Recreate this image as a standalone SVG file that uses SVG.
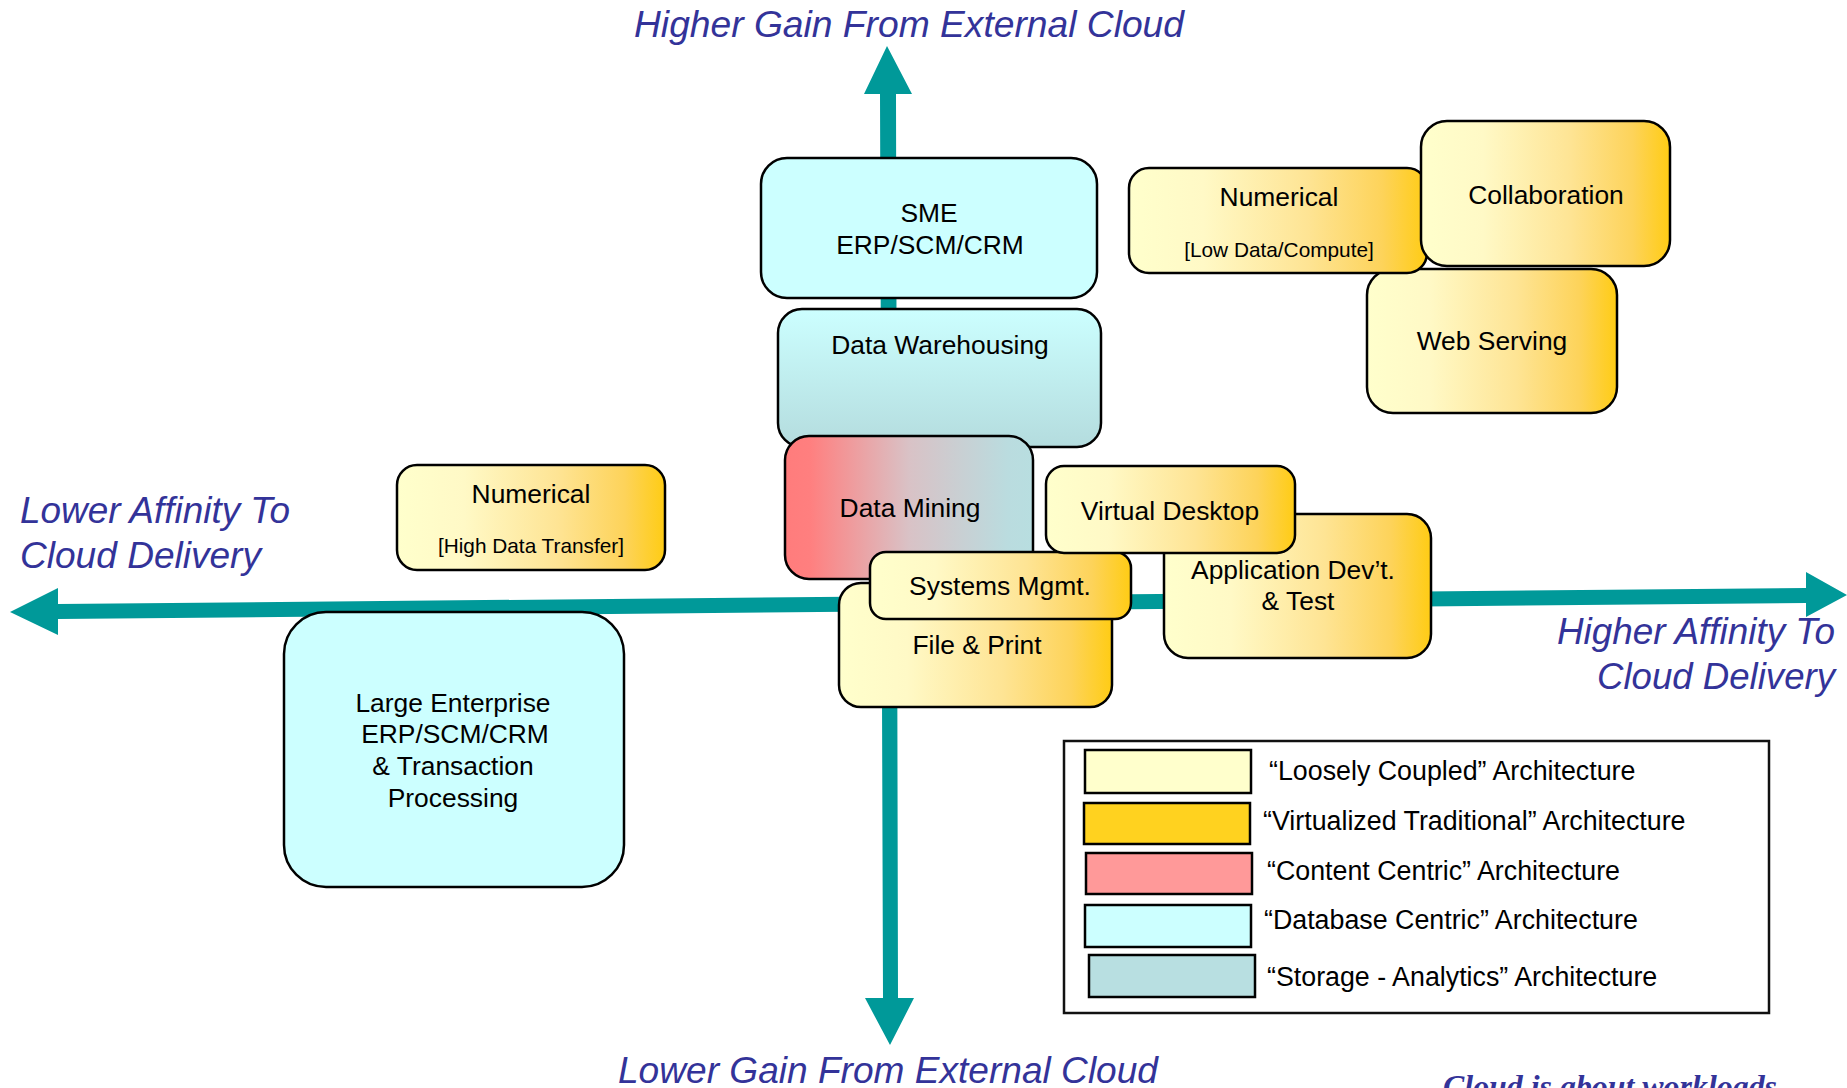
<svg xmlns="http://www.w3.org/2000/svg" width="1847" height="1088" viewBox="0 0 1847 1088">
  <style>
    .box { stroke: #000; stroke-width: 2.5; }
    .lbl { font-family: "Liberation Sans", Arial, sans-serif; font-size: 26.4px; fill: #000; text-anchor: middle; }
    .sub { font-family: "Liberation Sans", Arial, sans-serif; font-size: 20.8px; fill: #000; text-anchor: middle; }
    .axis-title { font-family: "Liberation Sans", Arial, sans-serif; font-style: italic; font-size: 36.5px; fill: #333399; }
    .axis { fill: #009999; }
    .leg { font-family: "Liberation Sans", Arial, sans-serif; font-size: 26.8px; fill: #000; }
    .swatch { stroke: #000; stroke-width: 2.5; }
  </style>
  <defs>
    <linearGradient id="gold" x1="0" y1="0" x2="1" y2="0">
      <stop offset="0" stop-color="#FFFFCC"/>
      <stop offset="0.25" stop-color="#FFF9C6"/>
      <stop offset="0.6" stop-color="#FEE494"/>
      <stop offset="0.85" stop-color="#FDD35A"/>
      <stop offset="1" stop-color="#FFCC14"/>
    </linearGradient>
    <linearGradient id="content" x1="0" y1="0" x2="1" y2="0">
      <stop offset="0" stop-color="#FF7C7C"/>
      <stop offset="0.1" stop-color="#FF7F7F"/>
      <stop offset="0.5" stop-color="#D9C2C6"/>
      <stop offset="0.9" stop-color="#BADCDF"/>
      <stop offset="1" stop-color="#B8DEE0"/>
    </linearGradient>
    <linearGradient id="storage" x1="0" y1="0" x2="0" y2="1">
      <stop offset="0" stop-color="#CCFFFF"/>
      <stop offset="1" stop-color="#B4DCDE"/>
    </linearGradient>
  </defs>

  <rect width="1847" height="1088" fill="#fff"/>

  <!-- axis titles -->
  <text class="axis-title" x="634" y="37" textLength="550" lengthAdjust="spacingAndGlyphs">Higher Gain From External Cloud</text>
  <text class="axis-title" x="618" y="1083" textLength="540" lengthAdjust="spacingAndGlyphs">Lower Gain From External Cloud</text>
  <text class="axis-title" x="20" y="523" textLength="270" lengthAdjust="spacingAndGlyphs">Lower Affinity To</text>
  <text class="axis-title" x="20" y="568" textLength="241" lengthAdjust="spacingAndGlyphs">Cloud Delivery</text>
  <text class="axis-title" x="1557" y="644" textLength="278" lengthAdjust="spacingAndGlyphs">Higher Affinity To</text>
  <text class="axis-title" x="1597" y="689" textLength="238" lengthAdjust="spacingAndGlyphs">Cloud Delivery</text>

  <!-- the two axes -->
  <g id="connectors">
    <polygon id="axis-vertical" class="axis" points="887,46 912,94 896,94 898,998 914,998 890,1045 865,998 883,998 880,94 864,94"/>
    <polygon id="axis-horizontal" class="axis" points="10,612 58,588 58,604 1806,588 1806,572 1847,595 1806,617 1806,603 58,619 58,635"/>
  </g>

  <!-- workloads -->
  <g id="sme">
    <rect class="box" x="761" y="158" width="336" height="140" rx="26" fill="#CCFFFF"/>
    <text class="lbl" x="929" y="222">SME</text>
    <text class="lbl" x="930" y="254">ERP/SCM/CRM</text>
  </g>

  <g id="data-warehousing">
    <rect class="box" x="778" y="309" width="323" height="138" rx="24" fill="url(#storage)"/>
    <text class="lbl" x="940" y="354">Data Warehousing</text>
  </g>

  <g id="data-mining">
    <rect class="box" x="785" y="436" width="248" height="143" rx="24" fill="url(#content)"/>
    <text class="lbl" x="910" y="517">Data Mining</text>
  </g>

  <g id="file-print">
    <rect class="box" x="839" y="583" width="273" height="124" rx="22" fill="url(#gold)"/>
    <text class="lbl" x="977" y="654">File &amp; Print</text>
  </g>

  <g id="systems-mgmt">
    <rect class="box" x="870" y="552" width="261" height="67" rx="16" fill="url(#gold)"/>
    <text class="lbl" x="1000" y="595">Systems Mgmt.</text>
  </g>

  <g id="app-dev">
    <rect class="box" x="1164" y="514" width="267" height="144" rx="24" fill="url(#gold)"/>
    <text class="lbl" x="1293" y="579">Application Dev’t.</text>
    <text class="lbl" x="1298" y="610">&amp; Test</text>
  </g>

  <g id="virtual-desktop">
    <rect class="box" x="1046" y="466" width="249" height="87" rx="18" fill="url(#gold)"/>
    <text class="lbl" x="1170" y="520">Virtual Desktop</text>
  </g>

  <g id="web-serving">
    <rect class="box" x="1367" y="269" width="250" height="144" rx="26" fill="url(#gold)"/>
    <text class="lbl" x="1492" y="350">Web Serving</text>
  </g>

  <g id="numerical-low-data">
    <rect class="box" x="1129" y="168" width="298" height="105" rx="20" fill="url(#gold)"/>
    <text class="lbl" x="1279" y="206">Numerical</text>
    <text class="sub" x="1279" y="257">[Low Data/Compute]</text>
  </g>

  <g id="collaboration">
    <rect class="box" x="1421" y="121" width="249" height="145" rx="26" fill="url(#gold)"/>
    <text class="lbl" x="1546" y="204">Collaboration</text>
  </g>

  <g id="numerical-high-data">
    <rect class="box" x="397" y="465" width="268" height="105" rx="20" fill="url(#gold)"/>
    <text class="lbl" x="531" y="503">Numerical</text>
    <text class="sub" x="531" y="553">[High Data Transfer]</text>
  </g>

  <g id="large-enterprise">
    <rect class="box" x="284" y="612" width="340" height="275" rx="42" fill="#CCFFFF"/>
    <text class="lbl" x="453" y="712">Large Enterprise</text>
    <text class="lbl" x="455" y="743">ERP/SCM/CRM</text>
    <text class="lbl" x="453" y="775">&amp; Transaction</text>
    <text class="lbl" x="453" y="807">Processing</text>
  </g>

  <!-- legend -->
  <g id="legend">
    <rect x="1064" y="741" width="705" height="272" fill="#fff" stroke="#111" stroke-width="2.5"/>
    <rect class="swatch" x="1085" y="750" width="166" height="43" fill="#FFFFCC"/>
    <text class="leg" x="1269" y="780">“Loosely Coupled” Architecture</text>
    <rect class="swatch" x="1084" y="803" width="166" height="41" fill="#FFD21F"/>
    <text class="leg" x="1263" y="830">“Virtualized Traditional” Architecture</text>
    <rect class="swatch" x="1086" y="853" width="166" height="41" fill="#FF9999"/>
    <text class="leg" x="1267" y="880">“Content Centric” Architecture</text>
    <rect class="swatch" x="1085" y="905" width="166" height="42" fill="#CCFFFF"/>
    <text class="leg" x="1264" y="929">“Database Centric” Architecture</text>
    <rect class="swatch" x="1089" y="955" width="166" height="42" fill="#B8DFE1"/>
    <text class="leg" x="1267" y="986">“Storage - Analytics” Architecture</text>
  </g>

  <text x="1443" y="1097" font-family="'Liberation Serif', 'Times New Roman', serif" font-style="italic" font-weight="bold" font-size="32" fill="#333399" textLength="334" lengthAdjust="spacingAndGlyphs">Cloud is about workloads</text>
</svg>
